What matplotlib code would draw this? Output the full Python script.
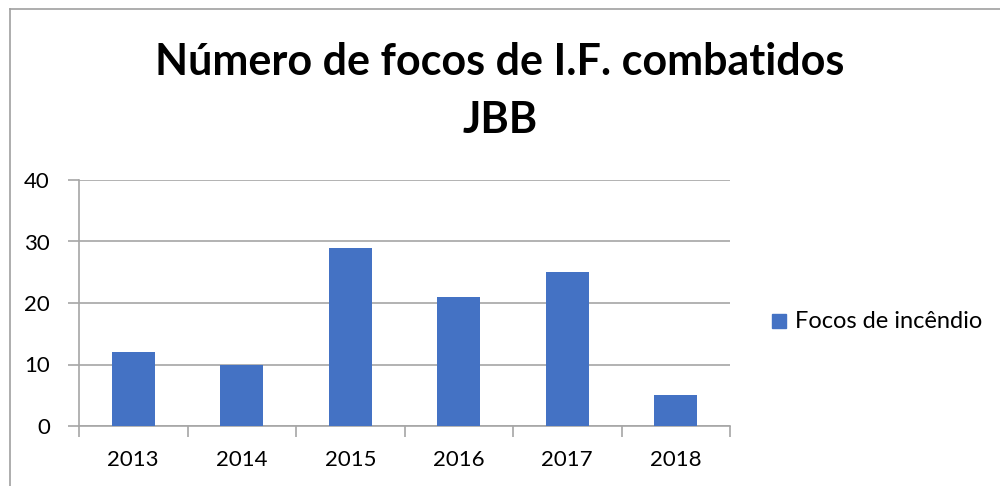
import matplotlib
matplotlib.use("Agg")
import matplotlib.pyplot as plt
from matplotlib.lines import Line2D
from matplotlib.patches import Rectangle
import numpy as np

years = ["2013", "2014", "2015", "2016", "2017", "2018"]
focos = [12, 10, 29, 21, 25, 5]
series_name = "Focos de incêndio"
title_lines = ["Número de focos de I.F. combatidos", "JBB"]
yticks = [0, 10, 20, 30, 40]

plt.rcParams['font.family'] = ['Lato', 'DejaVu Sans']

fig = plt.figure(figsize=(10, 4.86), dpi=100)
ax = fig.add_axes([0.079, 1 - 426/486, 0.730 - 0.079, (426 - 180)/486])

grid_c = "#a6a6a6"
bar_c = "#4472C4"

x = np.arange(len(years)) + 0.5
ax.bar(x, focos, width=0.4, color=bar_c, zorder=3)
ax.set_xlim(0, len(years))
ax.set_ylim(0, 40)
ax.set_yticks(yticks)
ax.set_yticklabels([str(v) for v in yticks], fontsize=16)
ax.yaxis.grid(True, color=grid_c, linewidth=1.2, zorder=0)
ax.set_xticks(np.arange(len(years) + 1))
ax.set_xticklabels([])
ax.set_xticks(x, minor=True)
ax.set_xticklabels(years, minor=True, fontsize=16)
ax.tick_params(axis='x', which='major', length=8, color=grid_c, width=1.2, direction='out')
ax.tick_params(axis='x', which='minor', length=0, pad=17)
ax.tick_params(axis='y', length=8, color=grid_c, width=1.2, direction='out', pad=13)
for s in ['top', 'right']:
    ax.spines[s].set_visible(False)
for s in ['left', 'bottom']:
    ax.spines[s].set_color(grid_c)
    ax.spines[s].set_linewidth(1.2)

fig.text(0.5, 1 - 75/486, title_lines[0], ha='center', va='baseline', fontsize=31,
         fontweight='bold')
fig.text(0.5, 1 - 133/486, title_lines[1], ha='center', va='baseline', fontsize=31,
         fontweight='bold')

# legend
fig.patches.append(Rectangle((772/1000, 1 - 328/486), 14/1000, 14/486,
                             transform=fig.transFigure, color=bar_c))
fig.text(795/1000, 1 - 321/486, series_name, ha='left', va='center', fontsize=17)

# chart border
fig.add_artist(Line2D([10/1000, 1], [1 - 9/486, 1 - 9/486], color="#a0a0a0", lw=1.2,
                      transform=fig.transFigure))
fig.add_artist(Line2D([10/1000, 10/1000], [0, 1 - 9/486], color="#a0a0a0", lw=1.2,
                      transform=fig.transFigure))

fig.savefig("out.png", dpi=100)
